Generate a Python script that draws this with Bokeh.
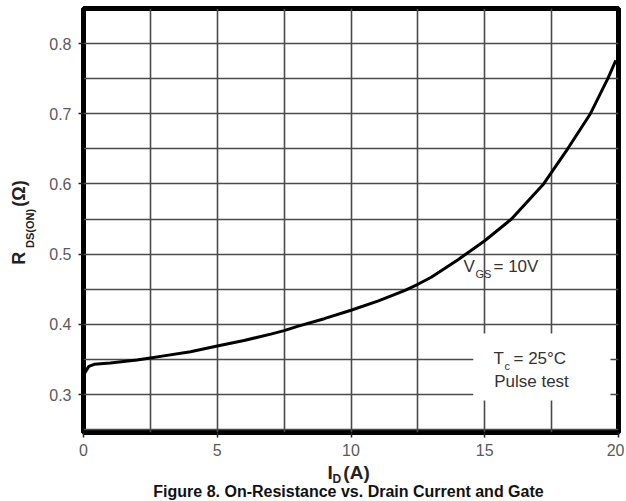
import math
from bokeh.plotting import figure
from bokeh.models import FixedTicker, Label, BoxAnnotation, Range1d
from bokeh.embed import file_html
from bokeh.resources import INLINE

# ---- data ----
drain_current = [0, 0.1, 0.2, 0.4, 1, 2, 2.5, 3, 4, 5, 6, 7, 7.5, 8, 9, 10,
                 11, 12, 12.5, 13, 14, 15, 16, 17.2, 18.1, 18.95, 19.6, 19.9]
r_ds_on = [0.327, 0.334, 0.340, 0.343, 0.345, 0.349, 0.352, 0.355, 0.361, 0.369,
           0.377, 0.386, 0.391, 0.397, 0.408, 0.420, 0.433, 0.448, 0.457, 0.467,
           0.492, 0.519, 0.550, 0.600, 0.650, 0.700, 0.750, 0.776]
x_ticks = [0, 5, 10, 15, 20]
y_ticks = [0.3, 0.4, 0.5, 0.6, 0.7, 0.8]
x_grid = [0, 2.5, 5, 7.5, 10, 12.5, 15, 17.5, 20]
y_grid = [0.25, 0.3, 0.35, 0.4, 0.45, 0.5, 0.55, 0.6, 0.65, 0.7, 0.75, 0.8]
caption = "Figure 8. On-Resistance vs. Drain Current and Gate"

FONT = "Liberation Sans"
NBSP = "\u00a0"

# ---- layout (page coordinates == canvas coordinates) ----
W, H = 624, 500
BL, BR, BT, BB = 83, 6, 8, 68
frame_w = W - BL - BR
frame_h = H - BT - BB
px_per_x = frame_w / 20.0
px_per_y = 702.0
y_top_gap = 43 - BT          # pixels between frame top and the 0.8 line
y_end = 0.8 + y_top_gap / px_per_y
y_start = y_end - frame_h / px_per_y

p = figure(width=W, height=H, output_backend="svg", toolbar_location=None,
           x_range=Range1d(0, 20), y_range=Range1d(y_start, y_end),
           min_border_left=BL, min_border_right=BR, min_border_top=BT,
           min_border_bottom=BB)
p.background_fill_color = "white"
p.border_fill_color = "white"
p.outline_line_color = "black"
p.outline_line_width = 5

p.xaxis.ticker = FixedTicker(ticks=x_ticks)
p.yaxis.ticker = FixedTicker(ticks=y_ticks)
p.xgrid.ticker = FixedTicker(ticks=x_grid)
p.ygrid.ticker = FixedTicker(ticks=y_grid)
for g in (p.xgrid, p.ygrid):
    g.grid_line_color = "#4a4a4a"
    g.grid_line_width = 1.6
    g.grid_line_alpha = 1.0

for ax in (p.xaxis, p.yaxis):
    ax.axis_line_color = None
    ax.major_tick_line_color = "#222222"
    ax.major_tick_line_width = 1.5
    ax.major_tick_out = 5
    ax.major_tick_in = 0
    ax.minor_tick_line_color = None
    ax.major_label_text_font = FONT
    ax.major_label_text_font_size = "16px"
    ax.major_label_text_color = "#5a5a5a"
    ax.axis_label = None
p.xaxis.major_label_standoff = 6
p.yaxis.major_label_standoff = 7

# white box behind the test-condition note
p.add_layout(BoxAnnotation(left=14.57, right=19.7, bottom=0.2915, top=0.387,
                           fill_color="white", fill_alpha=1.0, line_alpha=0))

p.line(drain_current, r_ds_on, line_color="black", line_width=3)


def dx(page_x):
    return (page_x - BL) / px_per_x


def dy(page_y):
    return 0.8 - (page_y - 43) / px_per_y


def add_text(page_x, page_y, text, size, align="left", bold=False,
             color="#333333", angle=0.0, place=None):
    lab = Label(x=dx(page_x), y=dy(page_y), text=text,
                text_font=FONT, text_font_size=f"{size}px",
                text_font_style="bold" if bold else "normal",
                text_align=align, text_baseline="middle",
                text_color=color, angle=angle)
    if place is None:
        p.add_layout(lab)
    else:
        p.add_layout(lab, place)


# V_GS = 10V
add_text(463, 266, "V", 17)
add_text(475, 273, "GS", 11)
add_text(493, 266, "= 10V", 17)

# T_c = 25°C / Pulse test
add_text(493, 358, "T", 17)
add_text(504, 365, "c", 11)
add_text(513, 358, "= 25°C", 17)
add_text(531, 381, "Pulse test", 17, align="center")

# x axis title I_D (A)
add_text(327, 472, "I" + NBSP * 2 + "(A)", 19, bold=True, color="#222222",
         place="below")
add_text(332, 478, "D", 12, bold=True, color="#222222", place="left")

# figure caption
add_text(348, 491, caption, 16, align="center", bold=True, color="#111111",
         place="below")

# y axis title R_DS(ON) (Ω)
rot = math.pi / 2
add_text(18, 222, "R" + NBSP * 9 + "(Ω)", 18, align="center", bold=True,
         color="#222222", angle=rot, place="left")
add_text(29, 228, "DS(ON)", 11, align="center", bold=True,
         color="#222222", angle=rot, place="left")

open("out.html", "w").write(file_html(p, INLINE))
